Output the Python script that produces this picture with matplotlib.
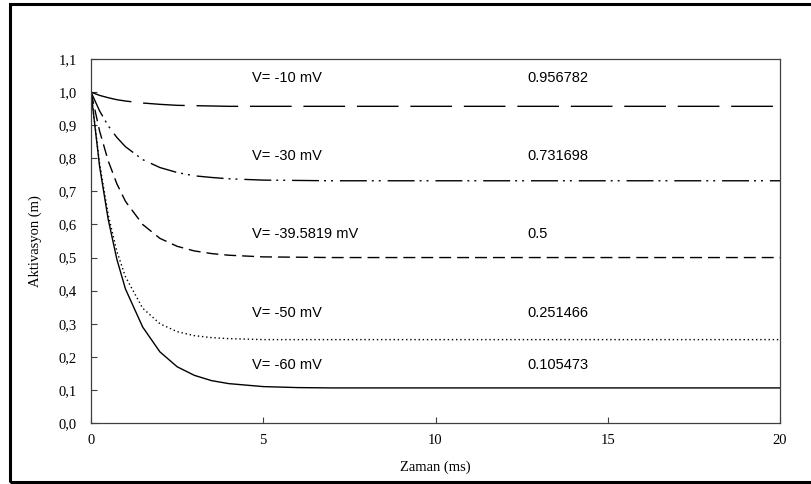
import matplotlib
matplotlib.use("Agg")
import matplotlib.pyplot as plt
from matplotlib.patches import Rectangle

# time points (ms) and activation values
zaman = [0, 0.25, 0.5, 0.75, 1, 1.5, 2, 2.5, 3, 3.5, 4, 5, 6, 7, 8, 10, 20]

m_10 = [1.0, 0.990, 0.983, 0.977, 0.973, 0.967, 0.963, 0.960, 0.959, 0.958,
        0.957, 0.957, 0.957, 0.957, 0.957, 0.957, 0.957]
m_30 = [1.0, 0.943, 0.898, 0.863, 0.835, 0.796, 0.772, 0.757, 0.747, 0.742,
        0.738, 0.734, 0.733, 0.732, 0.732, 0.732, 0.732]
m_40 = [1.0, 0.882, 0.792, 0.723, 0.670, 0.600, 0.558, 0.534, 0.520, 0.512,
        0.507, 0.502, 0.501, 0.500, 0.500, 0.500, 0.500]
m_50 = [1.0, 0.783, 0.629, 0.519, 0.442, 0.347, 0.300, 0.276, 0.264, 0.258,
        0.255, 0.252, 0.252, 0.252, 0.252, 0.252, 0.252]
m_60 = [1.0, 0.775, 0.615, 0.495, 0.405, 0.290, 0.215, 0.170, 0.144, 0.128,
        0.119, 0.110, 0.107, 0.106, 0.106, 0.106, 0.106]

seriler = [m_10, m_30, m_40, m_50, m_60]
etiketler = ["V= -10 mV", "V= -30 mV", "V= -39.5819 mV", "V= -50 mV", "V= -60 mV"]
degerler = ["0.956782", "0.731698", "0.5", "0.251466", "0.105473"]
etiket_y = [1.043, 0.807, 0.571, 0.333, 0.176]

# line styles: long dash, dash-dot-dot, dash, dot, solid
stiller = [(0, (30, 8.5)),
           (0, (19.4, 3.6, 1.4, 3.6, 1.4, 5)),
           (0, (8.6, 4.3)),
           (0, (1.0, 2.0)),
           "-"]

fig = plt.figure(figsize=(8.11, 4.84), dpi=100)
ax = fig.add_axes([91/811, 1 - 423/484, (780 - 91)/811, (423 - 59)/484])

for m, st in zip(seriler, stiller):
    ax.plot(zaman, m, color="black", lw=1.0, linestyle=st)

for txt, val, yy in zip(etiketler, degerler, etiket_y):
    ax.text(4.67, yy, txt, fontsize=10.5, family="Liberation Sans", va="center")
    ax.text(12.66, yy, val, fontsize=10.5, family="Liberation Sans", va="center")

ax.set_xlim(0, 20)
ax.set_ylim(0, 1.1)
ax.set_xticks([0, 5, 10, 15, 20])
ax.set_yticks([i / 10 for i in range(12)])
ax.set_yticklabels([f"{i/10:.1f}".replace(".", ",") for i in range(12)])

for sp in ax.spines.values():
    sp.set_color("#404040")
    sp.set_linewidth(0.9)

ax.tick_params(axis="both", direction="in", length=4, width=0.8, color="#404040")
ax.tick_params(axis="y", pad=10)
ax.tick_params(axis="x", pad=8)
for lab in ax.get_xticklabels() + ax.get_yticklabels():
    lab.set_family("Liberation Serif")
    lab.set_fontsize(10.5)

ax.set_xlabel("Zaman (ms)", family="Liberation Serif", fontsize=10.5, labelpad=10)
ax.set_ylabel("Aktivasyon (m)", family="Liberation Serif", fontsize=10.5, labelpad=12)

# outer frame around the chart (right edge lies outside the picture)
fig.patches.append(Rectangle((10/811, 1 - 482/484), 1.2, (482 - 4)/484,
                             transform=fig.transFigure, fill=False,
                             edgecolor="black", lw=2.2))

fig.savefig("out.png", dpi=100)
